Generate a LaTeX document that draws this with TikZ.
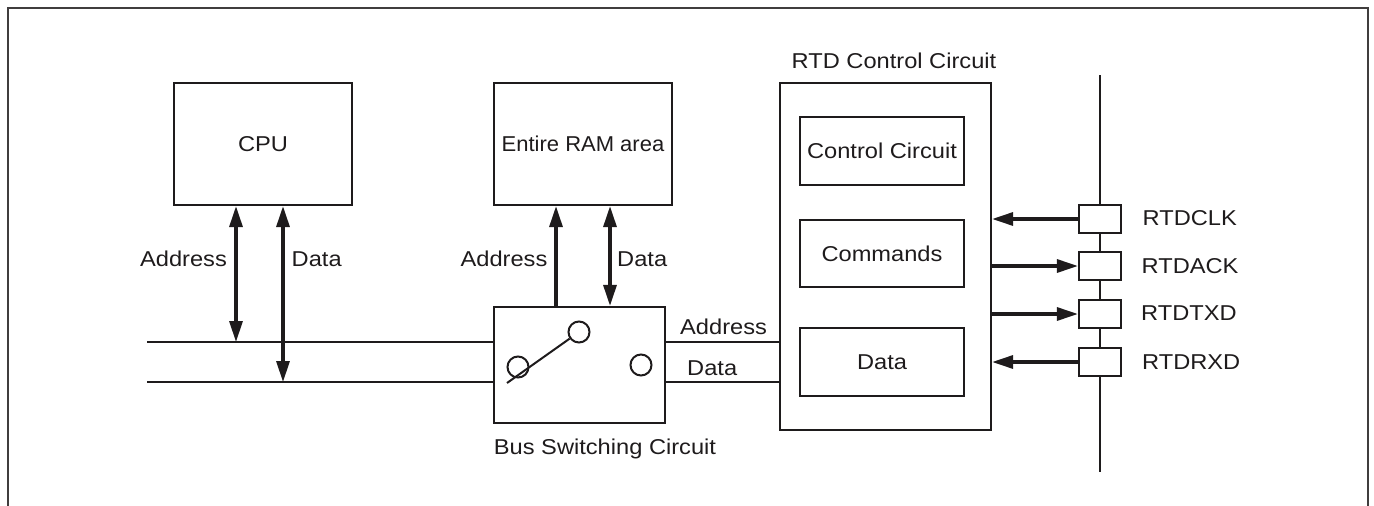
\documentclass[tikz,border=0pt]{standalone}
\usepackage{fontspec}
\usepackage{graphicx}
\setmainfont[FakeStretch=1.1]{Liberation Sans}
\usetikzlibrary{arrows.meta}
\definecolor{ink}{RGB}{30,27,28}
\begin{document}
\begin{tikzpicture}[x=1pt,y=-1pt,
  font=\fontsize{21.5}{25}\selectfont,
  every node/.style={text=ink, inner sep=0pt, text height=15.4pt, text depth=0pt},
  box/.style={draw=ink, line width=2.2pt},
  wire/.style={draw=ink, line width=2pt},
  frame/.style={draw=ink!85, line width=2pt},
  tip/.tip={Triangle[length=21pt,width=13pt]},
  dbl/.style={draw=ink, line width=3.2pt, tip-tip},
  sgl/.style={draw=ink, line width=3.2pt, -tip},
  ring/.style={circle, draw=ink, line width=2pt, minimum size=21pt, inner sep=0pt}]
\useasboundingbox (0,0) rectangle (1374,506);
\draw[frame] (8,506) -- (8,8) -- (1368,8) -- (1368,506);

% main boxes
\node[box, minimum width=178pt, minimum height=122pt] (cpu) at (263,144) {CPU};
\node[box, minimum width=178pt, minimum height=122pt] (ram) at (583,144) {\scalebox{0.93}[1]{Entire RAM area}};
\node[box, minimum width=171pt, minimum height=116pt] (sw) at (579.5,365) {};
\node[box, minimum width=211pt, minimum height=347pt] (rtd) at (885.5,256.5) {};
\node[box, minimum width=164pt, minimum height=68pt] (ctl) at (882,151) {Control Circuit};
\node[box, minimum width=164pt, minimum height=67pt] (cmd) at (882,253.5) {Commands};
\node[box, minimum width=164pt, minimum height=68pt] (dat) at (882,362) {Data};

% switch internals
\node[ring] (c1) at (579,332) {};
\node[ring] (c2) at (518,367) {};
\node[ring] (c3) at (641,365) {};
\coordinate (lever) at (507,383);
\draw[wire] (lever) -- (c1);

% buses
\coordinate (bA) at (147,342);
\coordinate (bD) at (147,382);
\draw[wire] (bA) -- (bA -| sw.west);
\draw[wire] (bD) -- (bD -| sw.west);
\draw[wire] (sw.east |- bA) -- (rtd.west |- bA);
\draw[wire] (sw.east |- bD) -- (rtd.west |- bD);

% CPU arrows
\coordinate (xa) at (236,0);
\coordinate (xd) at (283,0);
\draw[dbl] (cpu.south -| xa) -- (bA -| xa);
\draw[dbl] (cpu.south -| xd) -- (bD -| xd);

% RAM arrows
\coordinate (xra) at (556,0);
\coordinate (xrd) at (610,0);
\draw[sgl] (sw.north -| xra) -- (ram.south -| xra);
\draw[dbl] (ram.south -| xrd) -- (sw.north -| xrd);

% labels
\node (la1) at (183.5,259) {Address};
\node[anchor=west] (ld1) at (291.5,259) {Data};
\node (la2) at (504,259) {Address};
\node[anchor=west] (ld2) at (617,259) {Data};
\node[anchor=west] (la3) at (680,327) {Address};
\node[anchor=west] (ld3) at (687,368) {Data};
\node (swl) at (605,447) {Bus Switching Circuit};
\node (rtdl) at (894,61) {RTD Control Circuit};

% signal line
\node[box, minimum width=42pt, minimum height=28pt] (clk) at (1100,219) {};
\node[box, minimum width=42pt, minimum height=28pt] (ack) at (1100,266) {};
\node[box, minimum width=42pt, minimum height=28pt] (txd) at (1100,314) {};
\node[box, minimum width=42pt, minimum height=28pt] (rxd) at (1100,362) {};
\coordinate (vt) at (1100,75);
\coordinate (vb) at (1100,472);
\draw[wire] (vt) -- (clk.north) (clk.south) -- (ack.north)
  (ack.south) -- (txd.north) (txd.south) -- (rxd.north) (rxd.south) -- (vb);

\draw[sgl] (clk.west) -- (clk.west -| rtd.east);
\draw[sgl] (ack.west -| rtd.east) -- (ack.west);
\draw[sgl] (txd.west -| rtd.east) -- (txd.west);
\draw[sgl] (rxd.west) -- (rxd.west -| rtd.east);

\node[anchor=west] (lclk) at (1142.5,218) {RTDCLK};
\node[anchor=west] (lack) at (1141.5,266) {RTDACK};
\node[anchor=west] (ltxd) at (1141,313) {RTDTXD};
\node[anchor=west] (lrxd) at (1142,361.5) {RTDRXD};
\end{tikzpicture}
\end{document}
